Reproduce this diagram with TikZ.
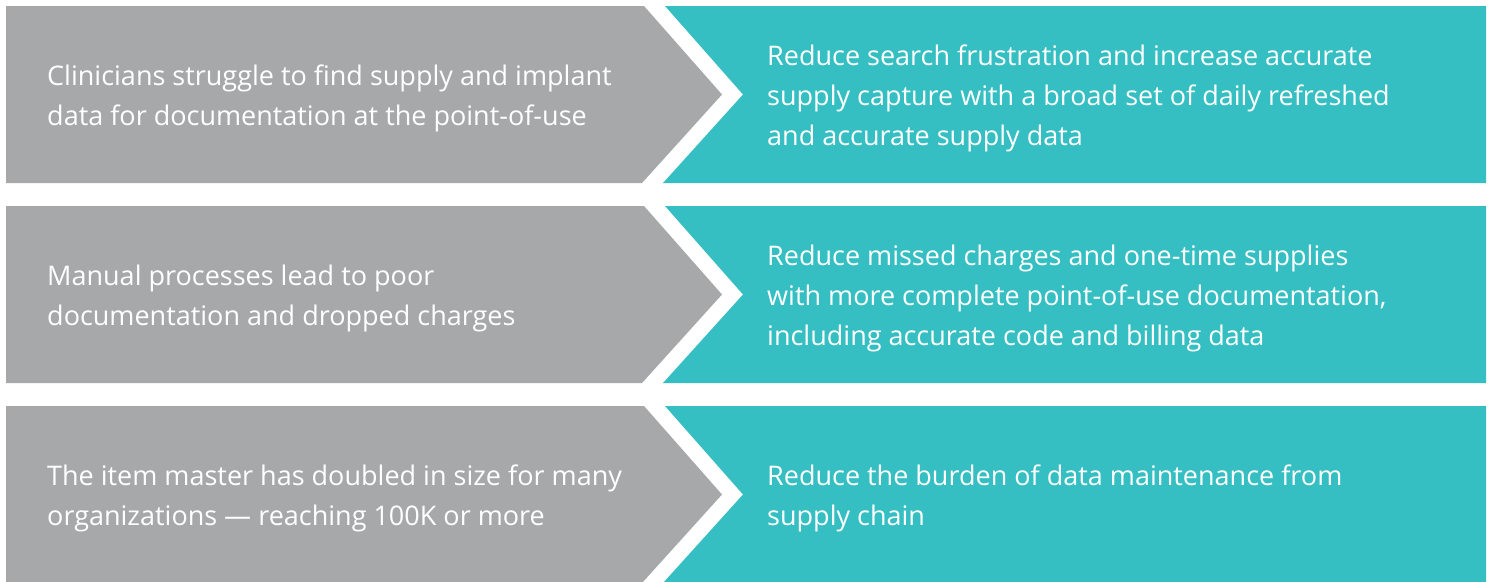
\documentclass[tikz,border=0pt]{standalone}
\usepackage{fontspec}
\setmainfont{Open Sans}
\definecolor{graybox}{RGB}{167,168,170}
\definecolor{tealbox}{RGB}{53,191,195}
\tikzset{
  txt/.style={anchor=west, inner sep=0pt, align=left, text=white,
    font=\fontsize{27}{40}\selectfont},
}
\begin{document}
\begin{tikzpicture}[x=1pt,y=-1pt]
\useasboundingbox (0,0) rectangle (1493,581);
\foreach \t/\b in {6/183, 206/383, 406/583}{
  \pgfmathsetmacro{\m}{(\t+\b)/2}
  \fill[graybox] (6,\t) -- (644,\t) -- (722,\m) -- (642,\b) -- (6,\b) -- cycle;
  \fill[tealbox] (665,\t) -- (1486,\t) -- (1486,\b) -- (663,\b) -- (743,\m) -- cycle;
}
\node[txt] (l1) at (47,98) {Clinicians struggle to find supply and implant\\data for documentation at the point-of-use};
\node[txt] (r1) at (767,98) {Reduce search frustration and increase accurate\\supply capture with a broad set of daily refreshed\\and accurate supply data};
\node[txt] (l2) at (47,298) {Manual processes lead to poor\\documentation and dropped charges};
\node[txt] (r2) at (767,298) {Reduce missed charges and one-time supplies\\with more complete point-of-use documentation,\\including accurate code and billing data};
\node[txt] (l3) at (47,498) {The item master has doubled in size for many\\organizations — reaching 100K or more};
\node[txt] (r3) at (767,498) {Reduce the burden of data maintenance from\\supply chain};
\end{tikzpicture}
\end{document}
